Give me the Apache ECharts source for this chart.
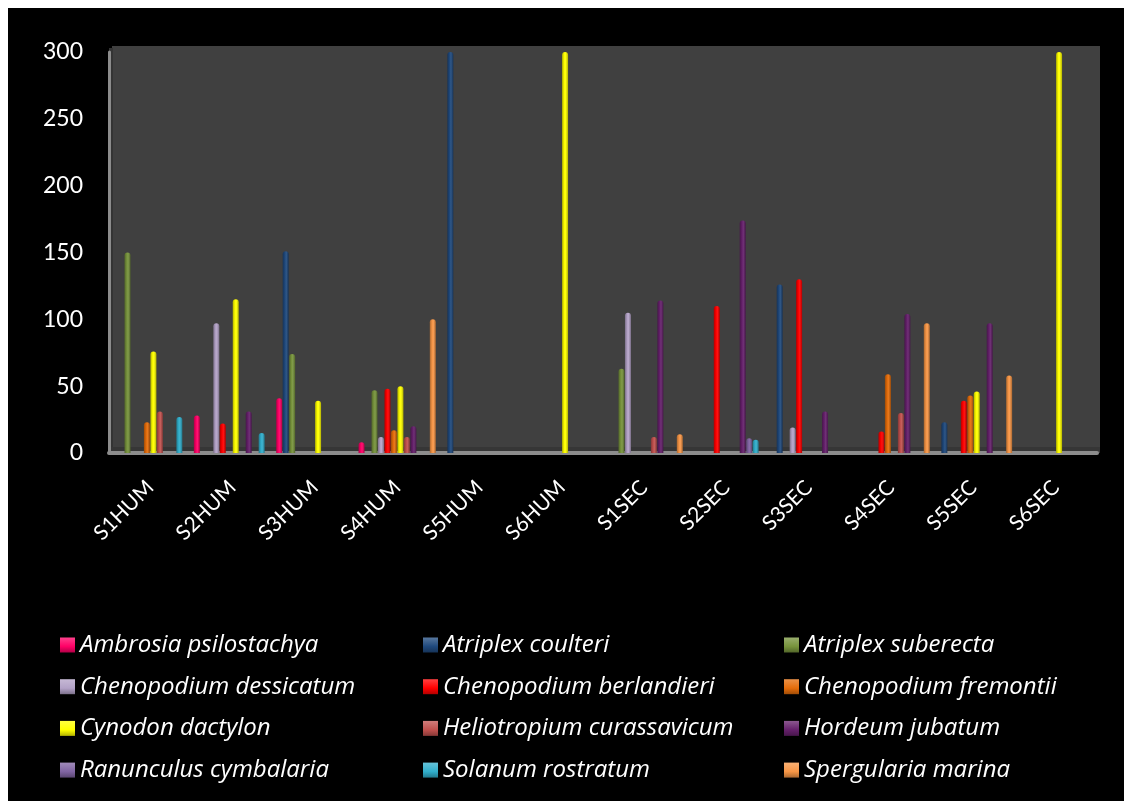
<!DOCTYPE html>
<html>
<head>
<meta charset="utf-8">
<script src="https://cdn.jsdelivr.net/npm/echarts@6/dist/echarts.min.js"></script>
<style>
html,body{margin:0;padding:0;background:#fff;}
#c{position:absolute;left:0;top:0;width:1124px;height:811px;}
</style>
</head>
<body>
<div id="c"></div>
<script>
const categories = ['S1HUM','S2HUM','S3HUM','S4HUM','S5HUM','S6HUM','S1SEC','S2SEC','S3SEC','S4SEC','S5SEC','S6SEC'];
const yTicks = [0, 50, 100, 150, 200, 250, 300];

const ambrosiaPsilostachya    = [0, 28, 41, 8, 0, 0, 0, 0, 0, 0, 0, 0];
const atriplexCoulteri        = [0, 0, 151, 0, 300, 0, 0, 0, 126, 0, 23, 0];
const atriplexSuberecta       = [150, 0, 74, 47, 0, 0, 63, 0, 0, 0, 0, 0];
const chenopodiumDessicatum   = [0, 97, 0, 12, 0, 0, 105, 0, 19, 0, 0, 0];
const chenopodiumBerlandieri  = [0, 22, 0, 48, 0, 0, 0, 110, 130, 16, 39, 0];
const chenopodiumFremontii    = [23, 0, 0, 17, 0, 0, 0, 0, 0, 59, 43, 0];
const cynodonDactylon         = [76, 115, 39, 50, 0, 300, 0, 0, 0, 0, 46, 300];
const heliotropiumCurassavicum= [31, 0, 0, 12, 0, 0, 12, 0, 0, 30, 0, 0];
const hordeumJubatum          = [0, 31, 0, 20, 0, 0, 114, 174, 31, 104, 97, 0];
const ranunculusCymbalaria    = [0, 0, 0, 0, 0, 0, 0, 11, 0, 0, 0, 0];
const solanumRostratum        = [27, 15, 0, 0, 0, 0, 0, 10, 0, 0, 0, 0];
const spergulariaMarina       = [0, 0, 0, 100, 0, 0, 14, 0, 0, 97, 58, 0];

const seriesNames = ['Ambrosia psilostachya','Atriplex coulteri','Atriplex suberecta','Chenopodium dessicatum','Chenopodium berlandieri','Chenopodium fremontii','Cynodon dactylon','Heliotropium curassavicum','Hordeum jubatum','Ranunculus cymbalaria','Solanum rostratum','Spergularia marina'];
const seriesData = [ambrosiaPsilostachya, atriplexCoulteri, atriplexSuberecta, chenopodiumDessicatum, chenopodiumBerlandieri, chenopodiumFremontii, cynodonDactylon, heliotropiumCurassavicum, hordeumJubatum, ranunculusCymbalaria, solanumRostratum, spergulariaMarina];
const seriesColors = ['#FF0066','#1F497D','#77933C','#B3A2C7','#FF0000','#E46C0A','#FFFF00','#C0504D','#65206B','#8064A2','#31AECB','#F79646'];

function shade(hex, f) {
  const n = parseInt(hex.slice(1), 16);
  let r = (n >> 16) & 255, g = (n >> 8) & 255, b = n & 255;
  if (f < 0) { r = Math.round(r * (1 + f)); g = Math.round(g * (1 + f)); b = Math.round(b * (1 + f)); }
  else { r = Math.round(r + (255 - r) * f); g = Math.round(g + (255 - g) * f); b = Math.round(b + (255 - b) * f); }
  return 'rgb(' + r + ',' + g + ',' + b + ')';
}
function barGrad(c) {
  return {type:'linear', x:0, y:0, x2:1, y2:0, colorStops:[
    {offset:0, color: shade(c, -0.3)},
    {offset:0.4, color: c},
    {offset:0.6, color: shade(c, 0.08)},
    {offset:1, color: shade(c, -0.3)}
  ]};
}
function legendGrad(c) {
  return {type:'linear', x:0, y:0, x2:0, y2:1, colorStops:[
    {offset:0, color: shade(c, 0.25)},
    {offset:0.6, color: c},
    {offset:1, color: shade(c, -0.3)}
  ]};
}

const axisFont = 'Lato, "Open Sans", sans-serif';
const legendFont = '"Open Sans", Lato, sans-serif';

const series = seriesNames.map((name, i) => ({
  name: name,
  type: 'bar',
  data: seriesData[i],
  barWidth: 6,
  barGap: '8%',
  itemStyle: { color: barGrad(seriesColors[i]), borderRadius: [3, 3, 0, 0] },
  emphasis: { disabled: true }
}));

function legendCol(idxs, left) {
  return {
    orient: 'vertical',
    left: left,
    top: 626,
    itemWidth: 15,
    itemHeight: 15,
    itemGap: 13.7,
    icon: 'rect',
    selectedMode: false,
    data: idxs.map(i => ({ name: seriesNames[i], itemStyle: { color: legendGrad(seriesColors[i]) } })),
    textStyle: { color: '#ffffff', fontFamily: legendFont, fontStyle: 'italic', fontSize: 24, lineHeight: 28 }
  };
}

const chart = echarts.init(document.getElementById('c'), null, { renderer: 'canvas' });
chart.setOption({
  backgroundColor: '#000000',
  animation: false,
  graphic: [
    { type: 'rect', shape: { x: 0, y: 0, width: 1124, height: 8 }, style: { fill: '#ffffff' }, z: 100 },
    { type: 'rect', shape: { x: 0, y: 0, width: 8, height: 811 }, style: { fill: '#ffffff' }, z: 100 },
    { type: 'rect', shape: { x: 0, y: 801, width: 1124, height: 10 }, style: { fill: '#ffffff' }, z: 100 },
    { type: 'rect', shape: { x: 112, y: 46, width: 988, height: 404 }, style: { fill: '#404040' }, z: -1 },
    { type: 'rect', shape: { x: 109, y: 48, width: 4, height: 405 }, style: { fill: '#343434' }, z: -1 },
    { type: 'rect', shape: { x: 109, y: 447, width: 991, height: 6 }, style: { fill: '#363636' }, z: -1 }
  ],
  grid: { left: 109, right: 27, top: 52, bottom: 358, show: false },
  legend: [ legendCol([0,3,6,9], 55), legendCol([1,4,7,10], 418), legendCol([2,5,8,11], 779) ],
  xAxis: {
    type: 'category',
    data: categories,
    axisLine: { show: true, lineStyle: { color: '#8c8c8c', width: 4 } },
    axisTick: { show: false },
    axisLabel: { color: '#ffffff', fontFamily: axisFont, fontSize: 21, rotate: 45, margin: 31 },
    splitLine: { show: false }
  },
  yAxis: {
    type: 'value',
    min: yTicks[0],
    max: yTicks[yTicks.length - 1],
    interval: 50,
    axisLine: { show: true, lineStyle: { color: '#8c8c8c', width: 3 } },
    axisTick: { show: false },
    axisLabel: { color: '#ffffff', fontFamily: axisFont, fontSize: 23, margin: 26 },
    splitLine: { show: false }
  },
  series: series
});
</script>
</body>
</html>
